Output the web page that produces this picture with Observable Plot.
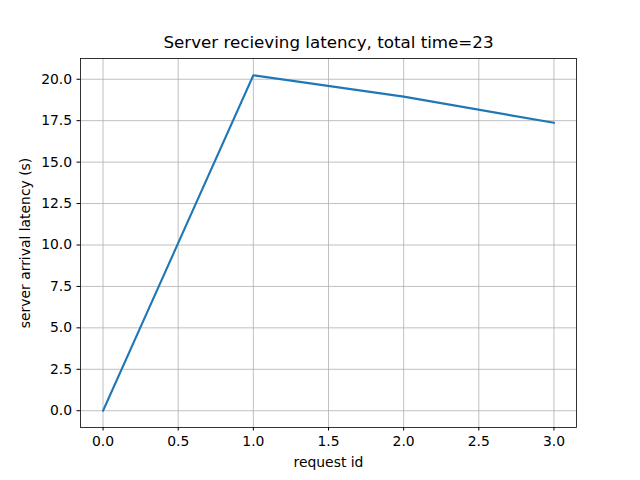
<!DOCTYPE html>
<html>
<head>
<meta charset="utf-8">
<script src="https://cdn.jsdelivr.net/npm/d3@7"></script>
<script src="https://cdn.jsdelivr.net/npm/@observablehq/plot@0.6"></script>
<style>
  html, body { margin: 0; padding: 0; background: #fff; }
  svg { display: block; }
</style>
</head>
<body>
<div id="chart"></div>
<script>
const requestIds = [0, 1, 2, 3];
const latencies = [0, 20.24, 18.95, 17.37];
const xTicks = [0, 0.5, 1, 1.5, 2, 2.5, 3];
const yTicks = [0, 2.5, 5, 7.5, 10, 12.5, 15, 17.5, 20];
const titleText = "Server recieving latency, total time=23";
const xLabel = "request id";
const yLabel = "server arrival latency (s)";

const data = requestIds.map((id, i) => ({id, latency: latencies[i]}));
const font = "DejaVu Sans, sans-serif";

const plot = Plot.plot({
  width: 640,
  height: 480,
  marginLeft: 80,
  marginRight: 64,
  marginTop: 58,
  marginBottom: 53,
  style: {fontFamily: font, fontSize: "13.9px", color: "#000", background: "#fff"},
  x: {domain: [-0.15, 3.15], ticks: xTicks, tickFormat: d3.format(".1f"), label: null, tickSize: 3.5, tickPadding: 4.9},
  y: {domain: [-1.012, 21.252], ticks: yTicks, tickFormat: d3.format(".1f"), label: null, tickSize: 3.5, tickPadding: 4.9},
  marks: [
    Plot.gridX(xTicks, {stroke: "#b0b0b0", strokeOpacity: 1, strokeWidth: 0.8}),
    Plot.gridY(yTicks, {stroke: "#b0b0b0", strokeOpacity: 1, strokeWidth: 0.8}),
    Plot.line(data, {x: "id", y: "latency", stroke: "#1f77b4", strokeWidth: 2.1}),
    Plot.frame({stroke: "#000", strokeWidth: 0.8}),
    Plot.axisX({ticks: xTicks, tickFormat: d3.format(".1f"), tickSize: 3.5, tickPadding: 4.9, fontSize: 13.9, label: null}),
    Plot.axisY({ticks: yTicks, tickFormat: d3.format(".1f"), tickSize: 3.5, tickPadding: 4.9, fontSize: 13.9, label: null}),
    Plot.text([titleText], {frameAnchor: "top", dy: -16, fontSize: 16.7, text: d => d, lineAnchor: "middle", fill: "#000"}),
    Plot.text([xLabel], {frameAnchor: "bottom", dy: 35, fontSize: 13.9, text: d => d, lineAnchor: "middle", fill: "#000"}),
    Plot.text([yLabel], {frameAnchor: "left", dx: -55, rotate: -90, fontSize: 13.9, text: d => d, textAnchor: "middle", lineAnchor: "middle", fill: "#000"})
  ]
});
document.getElementById("chart").appendChild(plot);
</script>
</body>
</html>
